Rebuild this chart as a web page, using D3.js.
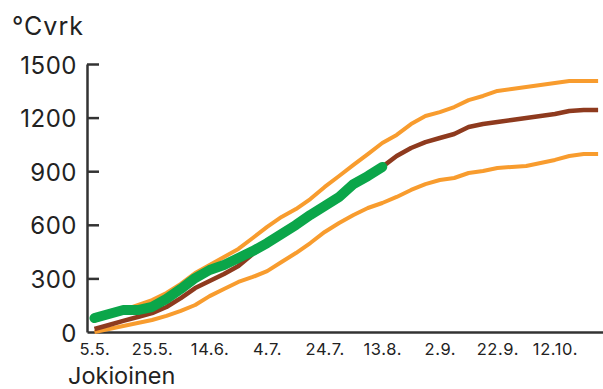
<!DOCTYPE html>
<html><head><meta charset="utf-8">
<script src="https://cdn.jsdelivr.net/npm/d3@7"></script>
<style>
html,body{margin:0;padding:0;background:#fff;}
svg text{font-family:"Inter","Noto Sans",sans-serif;fill:#222;}
</style></head>
<body>
<svg id="c" width="603" height="389"></svg>
<script>
const days = [0,5,10,15,20,25,30,35,40,45,50,55,60,65,70,75,80,85,90,95,100,105,110,115,120,125,130,135,140,145,150,155,160,165,170,175];
const maxSeries = [62,90,123,151,179,218,269,330,375,420,465,526,588,644,688,744,812,873,935,996,1058,1103,1164,1209,1231,1259,1298,1321,1349,1360,1371,1382,1394,1405,1405,1405];
const meanSeries = [17,39,62,84,106,140,190,246,285,325,369,437,487,537,588,644,694,744,812,868,924,985,1030,1063,1086,1108,1147,1164,1175,1187,1198,1209,1220,1237,1243,1243];
const minSeries = [0,17,34,50,67,90,118,151,201,241,280,308,341,392,442,498,560,610,655,694,722,756,795,828,851,862,890,901,918,924,929,946,963,985,996,996];
const currentSeries = [78,101,123,123,140,185,241,302,347,375,414,453,498,549,599,655,705,756,828,873,924];
const xTickDays = [0,20,40,60,80,100,120,140,160];
const xTickLabels = ["5.5.","25.5.","14.6.","4.7.","24.7.","13.8.","2.9.","22.9.","12.10."];
const yTicks = [0,300,600,900,1200,1500];
const yTitle = "°Cvrk";
const placeName = "Jokioinen";

const svg = d3.select("#c");
const x = d3.scaleLinear().domain([-2.6,176.7]).range([87,603]);
const y = d3.scaleLinear().domain([0,1500]).range([332,64]);

const line = d3.line().x(d=>x(d[0])).y(d=>y(d[1])).curve(d3.curveLinear);

// axes
const gx = svg.append("g").attr("transform","translate(0,332)")
  .call(d3.axisBottom(x).tickValues(xTickDays).tickSize(0).tickPadding(23)
  .tickFormat((d,i)=>xTickLabels[i]));
gx.select(".domain").attr("stroke","#333").attr("stroke-width",2.5);
gx.selectAll("text").attr("font-size",16.5).attr("letter-spacing","0.6px").attr("dy","0");

const gy = svg.append("g").attr("transform","translate(87,0)")
  .call(d3.axisLeft(y).tickValues(yTicks).tickFormat(d3.format("d"))
  .tickSizeInner(-12).tickSizeOuter(0).tickPadding(10));
gy.select(".domain").attr("stroke","#333").attr("stroke-width",2.5);
gy.selectAll(".tick line").attr("stroke","#333").attr("stroke-width",2.5);
gy.selectAll(".tick").filter(d=>d===0).select("line").remove();
gy.selectAll("text").attr("font-size",24).attr("letter-spacing","0.5px").attr("dy","9px");

const series = [
  {vals:minSeries, color:"#F89C2E", w:4},
  {vals:maxSeries, color:"#F89C2E", w:4},
  {vals:meanSeries, color:"#8E3A1E", w:4.5},
];
series.forEach(s=>{
  svg.append("path").datum(days.map((d,i)=>[d,s.vals[i]]))
    .attr("d",line).attr("fill","none").attr("stroke",s.color)
    .attr("stroke-width",s.w).attr("stroke-linejoin","round");
});
svg.append("path").datum(currentSeries.map((v,i)=>[days[i],v]))
  .attr("d",line).attr("fill","none").attr("stroke","#0BA64A")
  .attr("stroke-width",10).attr("stroke-linejoin","round").attr("stroke-linecap","round");

svg.append("text").attr("x",12).attr("y",35).attr("font-size",25).attr("letter-spacing","1px").text(yTitle);
svg.append("text").attr("x",68).attr("y",384).attr("font-size",23.5).text(placeName);
</script>
</body></html>
